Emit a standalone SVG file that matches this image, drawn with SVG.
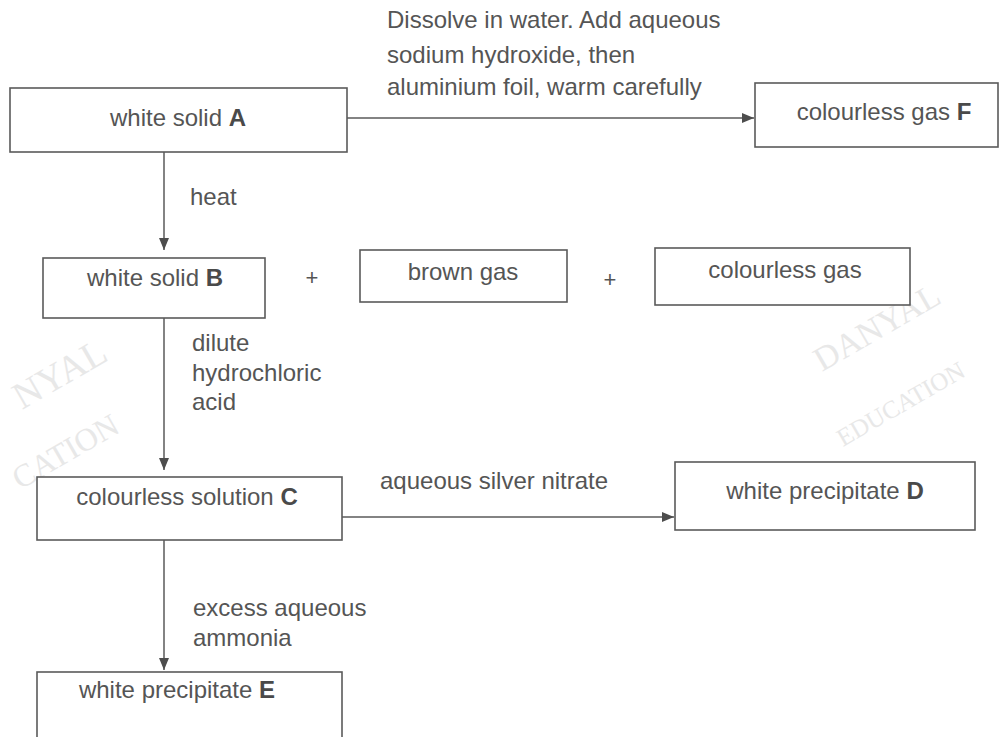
<svg xmlns="http://www.w3.org/2000/svg" width="1002" height="737" viewBox="0 0 1002 737">
<defs>
<style>
text{font-family:"Liberation Sans",Arial,sans-serif;font-size:24px;fill:#555}
.c{text-anchor:middle}
.b{font-weight:bold;fill:#4a4a4a}
.box{fill:#fff;stroke:#5a5a5a;stroke-width:1.6}
.ln{stroke:#5a5a5a;stroke-width:1.5;fill:none}
.wm{font-family:"Liberation Serif",serif;fill:#e8e8e8}
.plus{font-size:22px}
</style>
<marker id="ah" viewBox="0 0 12 10" refX="12" refY="5" markerWidth="12" markerHeight="10" markerUnits="userSpaceOnUse" orient="auto">
<path d="M0,0 L12,5 L0,10 z" fill="#4d4d4d"/>
</marker>
</defs>
<rect width="1002" height="737" fill="#fff"/>
<g id="watermarks">
<text class="wm" style="font-size:38px" transform="translate(22,410) rotate(-30)">NYAL</text>
<text class="wm" style="font-size:32px" transform="translate(20,490) rotate(-30)">CATION</text>
<text class="wm" style="font-size:34px" transform="translate(822,372) rotate(-30)">DANYAL</text>
<text class="wm" style="font-size:25px" transform="translate(843,447) rotate(-30)">EDUCATION</text>
</g>
<g id="connectors">
<line class="ln" x1="347" y1="118" x2="754" y2="118" marker-end="url(#ah)"/>
<line class="ln" x1="164" y1="152" x2="164" y2="250" marker-end="url(#ah)"/>
<line class="ln" x1="164" y1="318" x2="164" y2="470" marker-end="url(#ah)"/>
<line class="ln" x1="342" y1="517" x2="674" y2="517" marker-end="url(#ah)"/>
<line class="ln" x1="164" y1="540" x2="164" y2="670" marker-end="url(#ah)"/>
<text x="387" y="28">Dissolve in water. Add aqueous</text>
<text x="387" y="63">sodium hydroxide, then</text>
<text x="387" y="95">aluminium foil, warm carefully</text>
<text x="190" y="205">heat</text>
<text x="192" y="351">dilute</text>
<text x="192" y="381">hydrochloric</text>
<text x="192" y="410">acid</text>
<text x="380" y="489">aqueous silver nitrate</text>
<text x="193" y="616">excess aqueous</text>
<text x="193" y="646">ammonia</text>
</g>
<g id="nodeA">
<rect class="box" x="10" y="88" width="337" height="64"/>
<text class="c" x="178" y="126">white solid <tspan class="b">A</tspan></text>
</g>
<g id="nodeF">
<rect class="box" x="755" y="83" width="243" height="64"/>
<text class="c" x="884" y="120">colourless gas <tspan class="b">F</tspan></text>
</g>
<g id="nodeB">
<rect class="box" x="43" y="258" width="222" height="60"/>
<text class="c" x="155" y="286">white solid <tspan class="b">B</tspan></text>
</g>
<g id="plus1"><text class="c plus" x="312" y="285">+</text></g>
<g id="nodeBrown">
<rect class="box" x="360" y="250" width="207" height="52"/>
<text class="c" x="463" y="280">brown gas</text>
</g>
<g id="plus2"><text class="c plus" x="610" y="287">+</text></g>
<g id="nodeColourless">
<rect class="box" x="655" y="248" width="255" height="57"/>
<text class="c" x="785" y="278">colourless gas</text>
</g>
<g id="nodeC">
<rect class="box" x="37" y="477" width="305" height="63"/>
<text class="c" x="187" y="505">colourless solution <tspan class="b">C</tspan></text>
</g>
<g id="nodeD">
<rect class="box" x="675" y="462" width="300" height="68"/>
<text class="c" x="825" y="499">white precipitate <tspan class="b">D</tspan></text>
</g>
<g id="nodeE">
<rect class="box" x="37" y="672" width="305" height="80"/>
<text class="c" x="177" y="698">white precipitate <tspan class="b">E</tspan></text>
</g>
</svg>
